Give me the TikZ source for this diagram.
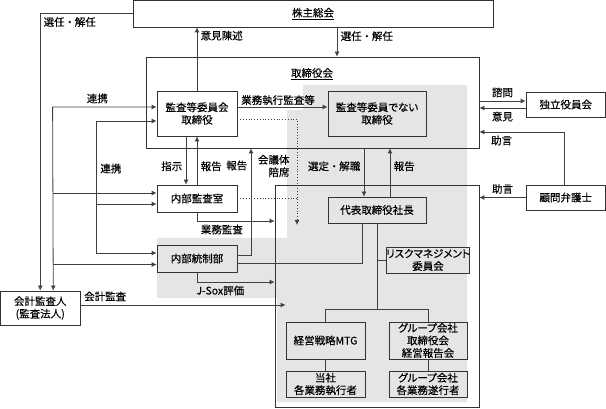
\documentclass[tikz,border=0pt]{standalone}
\usepackage{fontspec}
\setmainfont[RawFeature=+palt, FakeBold=0.35]{Noto Sans CJK JP}
\usetikzlibrary{calc,positioning,arrows.meta}
\newcommand{\naka}{\hspace{2.5pt}・\hspace{2.5pt}}

\begin{document}
\begin{tikzpicture}[x=1pt, y=-1pt, font=\fontsize{10.5}{12.5}\selectfont,
	box/.style = {draw=black!80, line width=.8pt, inner sep=0pt, align=center},
	shade/.style = {box, fill=black!10},
	arr/.style = {draw=black!75, line width=.8pt, -{Latex[length=5pt,width=5pt]}},
	dual/.style = {arr, {Latex[length=5pt,width=5pt]}-{Latex[length=5pt,width=5pt]}},
	ln/.style = {draw=black!75, line width=.8pt}]
	\useasboundingbox (0,0) rectangle (606,409);
	\fill[black!10] (303,85) -- (467,85) -- (467,402) -- (277,402) -- (277,298) -- (157,298)
		-- (157,238) -- (287,238) -- (287,110) -- (303,110) -- cycle;

	\node[box, minimum width=360, minimum height=26.5] (kabu) at (313,13.75) {\underline{株主総会}};
	\node[box, minimum width=333, minimum height=91] (tori) at (312.5,102.5) {};
	\node (toriT) at (312,74) {\underline{取締役会}};
	\node[box, fill=white, minimum width=80, minimum height=45] (kansa) at (197,113.5) {監査等委員会\\取締役};
	\node[shade, minimum width=98, minimum height=45] (hikansa) at (377,113.5) {監査等委員でない\\取締役};
	\node[box, fill=white, minimum width=80, minimum height=27] (naibu) at (197,198.5) {内部監査室};
	\node[shade, minimum width=80, minimum height=27] (tosei) at (197,258.5) {内部統制部};
	\node[box, minimum width=204, minimum height=222] (shikko) at (377,296) {};
	\node[shade, minimum width=98, minimum height=26] (shacho) at (377,210) {代表取締役社長};
	\node[shade, minimum width=78, minimum height=26] (risk) at (428,260) {リスクマネジメント\\委員会};
	\node[shade, minimum width=79, minimum height=37] (mtg) at (325.5,340.5) {経営戦略MTG};
	\node[shade, minimum width=78, minimum height=37] (group) at (428,340.5) {グループ会社\\取締役会\\経営報告会};
	\node[shade, minimum width=79, minimum height=26] (tosha) at (325.5,384) {当社\\各業務執行者};
	\node[shade, minimum width=78, minimum height=26] (groupk) at (428,384) {グループ会社\\各業務遂行者};
	\node[box, minimum width=79.5, minimum height=25] (doku) at (565.75,104.5) {独立役員会};
	\node[box, minimum width=79.5, minimum height=25] (komon) at (565.75,197.5) {顧問弁護士};
	\node[box, minimum width=79.5, minimum height=34] (kaikei) at (40.25,308) {会計監査人\\(監査法人)};

	\coordinate (kansaA) at ($(kansa.west)+(0,-6.5)$);
	\coordinate (kansaB) at ($(kansa.west)+(0,7.5)$);
	\coordinate (naibuA) at ($(naibu.west)+(0,-5.5)$);
	\coordinate (naibuB) at ($(naibu.west)+(0,5.5)$);
	\coordinate (toseiA) at ($(tosei.west)+(0,6)$);
	\coordinate (toseiB) at ($(tosei.west)+(0,-5.5)$);
	\coordinate (kaikeiA) at ($(kaikei.north)+(13,0)$);
	\coordinate (kaikeiB) at ($(kaikei.east)+(0,-3)$);
	\coordinate (kabuA) at ($(kabu.south)+(24,0)$);
	\coordinate (kansaC) at ($(kansa.east)+(0,-6.5)$);
	\coordinate (kansaD) at ($(kansa.east)+(0,5.5)$);
	\coordinate (kaigi) at (297,225);
	\coordinate (toriB) at ($(tori.south)+(-61.5,0)$);
	\coordinate (toriC) at ($(tori.south)+(51.5,0)$);
	\coordinate (shachoA) at ($(shacho.north)+(13,0)$);
	\coordinate (br) at ($(mtg.north)+(0,-12)$);
	\coordinate (dokuA) at ($(doku.west)+(0,-3.5)$);
	\coordinate (dokuB) at ($(doku.west)+(0,3.5)$);

	\draw[arr] (kabu.west) -| node[below right, pos=.5, inner sep=3pt]{選任\naka 解任} (kaikei.north);
	\draw[dual] (kansaA) -- node[above, pos=.57]{連携} ++(-104,0) -- (kaikeiA);
	\draw[arr] ($(naibuA)+(-104,0)$) -- (naibuA);
	\draw[arr] ($(toseiA)+(-104,0)$) -- (toseiA);
	\draw[dual] (kansaB) -- ++(-60,0) |- node[right, pos=.18]{連携} (toseiB);
	\draw[arr] ($(naibuB)+(-60,0)$) -- (naibuB);

	\draw[arr] (kansa.north) -- node[right, pos=.87]{意見陳述} (kansa.north |- kabu.south);
	\draw[arr] (kabuA) -- node[right, pos=.3]{選任\naka 解任} (kabuA |- tori.north);
	\draw[arr] (kansaC) -- node[above, pos=.45, inner sep=1.5pt]{業務執行監査等} (kansaC -| hikansa.west);
	\draw[ln, dotted, -{Latex[length=5pt,width=5pt]}] (kansaD) -| (kaigi);
	\draw[ln, dotted] (naibu.east) -- (naibu.east -| kaigi);
	\node[align=right, anchor=east] (kaigiT) at (293,166) {会議体\\陪席};

	\draw[arr] ($(kansa.south)+(-11,0)$) -- node[left, pos=.62]{指示} ($(naibu.north)+(-11,0)$);
	\draw[arr] (naibu.north) -- node[right, pos=.38]{報告} (kansa.south);
	\draw[arr] ($(tosei.east)+(0,-3.5)$) -| node[left, pos=.92]{報告} (toriB);
	\draw[arr] (naibu.south) |- node[below, pos=.66]{業務監査} ($(shikko.west)+(0,-75)$);
	\draw[arr] (tosei.south) |- node[below, pos=.65]{J-Sox評価} ($(shikko.west)+(0,-14)$);
	\draw[ln] ($(tosei.east)+(0,4.5)$) -| ($(shacho.south)+(-15,0)$);
	\draw[arr] (kaikeiB) -- node[above right, pos=0]{会計監査} (kaikeiB -| mtg.west);

	\draw[arr] (toriC) -- node[left, pos=.37]{選定\naka 解職} (toriC |- shacho.north);
	\draw[arr] (shachoA) -- node[right, pos=.63]{報告} (shachoA |- tori.south);
	\draw[ln] (shacho.south) -- (shacho.south |- br);
	\draw[ln] (mtg.north) -- (br) -| (group.north);
	\draw[ln] (shacho.south |- risk.west) -- (risk.west);
	\draw[ln] (mtg) -- (tosha);
	\draw[ln] (group) -- (groupk);

	\draw[arr] (dokuA -| tori.east) -- node[above]{諮問} (dokuA);
	\draw[arr] (dokuB) -- node[below]{意見} (dokuB -| tori.east);
	\draw[arr] ($(komon.north)+(-1,0)$) |- node[below, pos=.87]{助言} ($(tori.east)+(0,29.5)$);
	\draw[arr] (komon.west) -- node[above]{助言} (komon.west -| shikko.east);
\end{tikzpicture}
\end{document}
